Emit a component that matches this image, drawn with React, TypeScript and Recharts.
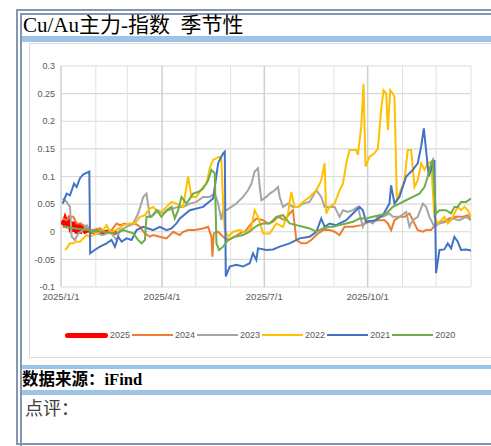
import { LineChart, Line, XAxis, YAxis, CartesianGrid, ReferenceLine } from "recharts";

// [day of year, value]
const s2025: [number, number][] = [
  [0, 0.018], [2.1, 0.015], [3.6, 0.024], [5, 0.015], [6.5, 0.021], [8, 0.009], [9.5, 0.018],
  [11, 0], [12.4, 0.018], [13.9, -0.003], [15.4, 0.015], [16.9, -0.003], [18.4, 0.009],
  [21.3, 0], [24.3, 0.003], [27.3, 0], [31.7, 0], [36.1, -0.003], [40.6, 0], [45, 0], [49.5, -0.003],
];

const s2024: [number, number][] = [
  [1.5, 0.024], [5, 0.021], [8, 0.027], [11, 0.027], [13.9, 0.015], [16.9, 0.015], [19.9, 0.012],
  [22.8, 0.006], [25.8, 0.003], [28.7, 0.003], [34.7, 0.006], [40.6, -0.003], [45, 0.003],
  [49.5, 0.015], [52.4, 0.012], [56.9, 0.015], [61.3, 0.012], [65.8, 0.015], [70.2, 0.009],
  [74.7, -0.003], [79.1, -0.009], [82.1, -0.006], [88, -0.009], [93.9, -0.012], [99.9, 0],
  [105.8, -0.006], [108.7, 0], [113.2, 0.003], [119.1, 0.003], [126.5, 0.006], [131, 0.009],
  [133.9, -0.009], [134.8, -0.045], [136, -0.003], [139.9, 0], [144.3, -0.009], [148.7, -0.015],
  [154.7, -0.009], [159.1, -0.003], [163.6, 0], [169.5, 0.015], [173.9, 0.024], [179.9, 0.021],
  [184.3, 0.015], [188.7, 0.018], [193.2, 0.027], [199.1, 0.021], [203.6, 0.033], [206.5, 0.039],
  [209.5, -0.015], [213.9, -0.021], [218.4, -0.021], [222.8, -0.015], [227.3, -0.006],
  [233.2, 0.003], [239.1, 0.003], [243.6, 0], [248, -0.006], [252.4, 0.009], [259.9, 0.009],
  [267.3, 0.012], [274.7, 0.018], [282.1, 0.021], [288, 0.021], [291, 0.015], [293.9, 0.003],
  [296.9, 0.021], [301.3, 0.027], [305.8, 0.027], [310.2, 0.033], [313.2, 0.021], [317.6, 0.003],
  [322.1, 0], [325, 0.003], [329.5, 0.003], [333.9, 0.015], [339.9, 0.018], [345.8, 0.024],
  [351.7, 0.027], [357.6, 0.027], [362.1, 0.03], [365, 0.021],
];

const s2023: [number, number][] = [
  [1.5, 0.06], [5, 0.054], [8, 0.045], [9.5, -0.009], [12.4, -0.015], [15.4, -0.003], [19.9, 0.003],
  [22.8, 0.012], [27.3, 0], [31.7, -0.003], [37.6, -0.006], [43.6, 0], [49.5, -0.015], [52.4, 0.003],
  [58.4, 0.009], [64.3, 0.015], [68.7, 0.033], [73.2, 0.063], [76.1, 0.069], [79.1, 0.027],
  [82.1, 0.03], [86.5, 0.039], [91, 0.033], [95.4, 0.039], [99.9, 0.042], [104.3, 0.045],
  [108.7, 0.045], [114.7, 0.051], [120.6, 0.054], [126.5, 0.063], [132.4, 0.063], [136.9, 0.069],
  [139.9, 0.051], [142.8, 0.021], [144.3, 0.039], [147.3, 0.039], [151.7, 0.045], [156.1, 0.051],
  [162.1, 0.063], [166.5, 0.075], [169.5, 0.087], [172.4, 0.109], [175.4, 0.115], [176.9, 0.081],
  [178.4, 0.057], [182.8, 0.063], [185.8, 0.069], [190.2, 0.075], [193.2, 0.081], [194.7, 0.063],
  [197.6, 0.045], [202.1, 0.051], [206.5, 0.045], [211, 0.045], [215.4, 0.051], [221.3, 0.054],
  [227.3, 0.075], [231.7, 0.063], [234.7, 0.045], [239.1, 0.045], [243.6, 0.045], [248, 0.027],
  [251, 0.039], [255.4, 0.036], [259.9, 0.039], [264.3, 0.045], [268.7, 0.009], [271.7, 0.021],
  [277.6, 0.015], [282.1, 0.027], [286.5, 0.027], [292.4, 0.033], [295.4, 0.027], [301.3, 0.027],
  [307.3, 0.036], [310.2, 0.009], [313.2, 0.021], [317.6, 0.027], [322.1, 0.051], [325, 0.045],
  [328, 0.027], [332.4, 0.009], [336.9, 0.015], [342.8, 0.018], [348.7, 0.024], [354.7, 0.021],
  [360.6, 0.027], [365, 0.021],
];

const s2022: [number, number][] = [
  [3.6, -0.033], [5, -0.03], [8, -0.021], [11, -0.021], [13.9, -0.018], [16.9, -0.018],
  [19.9, -0.012], [22.8, -0.006], [25.8, -0.009], [31.7, -0.003], [37.6, 0.003], [40.6, 0.012],
  [43.6, 0], [49.5, 0.003], [55.4, 0.012], [61.3, 0.015], [65.8, 0.015], [70.2, 0.027],
  [74.7, 0.03], [79.1, 0.042], [82.1, 0.045], [88, 0.033], [93.9, 0.045], [98.4, 0.054],
  [102.8, 0.051], [108.7, 0.045], [113.2, 0.1], [116.1, 0.063], [120.6, 0.063], [126.5, 0.081],
  [129.5, 0.087], [132.4, 0.115], [135.4, 0.13], [141.3, 0.136], [142.8, 0.13], [144.3, 0.051],
  [145.8, 0.003], [148.7, -0.009], [153.2, 0], [159.1, 0.003], [165, -0.003], [169.5, 0.009],
  [172.4, 0.039], [175.4, 0.027], [179.9, -0.003], [185.8, -0.003], [191.7, 0.015], [197.6, 0.009],
  [202.1, 0.033], [205, 0.072], [208, 0.045], [211, 0.045], [215.4, 0.054], [221.3, 0.063],
  [227.3, 0.075], [231.7, 0.093], [234.7, 0.124], [236.1, 0.033], [239.1, 0.045], [243.6, 0.051],
  [248, 0.075], [251, 0.087], [254, 0.124], [256.9, 0.148], [262.8, 0.148], [264.3, 0.139],
  [267.3, 0.19], [269.3, 0.268], [271.1, 0.118], [274.7, 0.136], [279.1, 0.142], [282.1, 0.151],
  [285, 0.22], [287.1, 0.256], [289.5, 0.25], [291, 0.184], [293.1, 0.256], [295.4, 0.25],
  [296.9, 0.244], [299, 0.057], [301.3, 0.069], [305.8, 0.093], [308.7, 0.148], [311.7, 0.148],
  [314.7, 0.081], [317.6, 0.093], [320.6, 0.124], [323.6, 0.112], [326.5, 0.124], [329.5, 0.127],
  [332.4, 0.027], [335.4, 0.015], [338.4, 0.021], [341.3, 0.027], [344.3, 0.015], [347.3, 0.021],
  [350.2, 0.033], [353.2, 0.045], [356.1, 0.039], [359.1, 0.045], [362.1, 0.039], [365, 0.027],
];

const s2021: [number, number][] = [
  [1.5, 0.051], [5, 0.069], [8, 0.066], [11.6, 0.087], [13.9, 0.081], [16.9, 0.097], [19.9, 0.104],
  [25.2, 0.109], [26, -0.039], [30, -0.033], [34.7, -0.027], [40.6, -0.021], [45, -0.015],
  [48, -0.027], [51, -0.009], [54, -0.018], [58.4, -0.012], [62.8, -0.015], [67.3, 0.003],
  [73.2, 0.009], [77.6, 0.006], [82, 0.003], [88, 0.009], [94, 0.003], [98.4, 0.006],
  [102.8, 0.015], [105.8, 0.024], [114.7, 0.039], [126.5, 0.045], [135.4, 0.06], [139.9, 0.124],
  [144.3, 0.142], [145.8, 0.145], [146.7, -0.081], [150.2, -0.063], [156.1, -0.06], [162, -0.063],
  [168, -0.057], [170.9, -0.039], [173.9, -0.051], [175.4, -0.03], [182.8, -0.033], [188.7, -0.032],
  [194.7, -0.027], [203.6, -0.021], [212.4, -0.012], [221.3, -0.009], [227.3, 0], [231.7, 0.024],
  [234.7, 0.009], [239.1, 0.015], [245, 0.012], [253.9, 0.021], [259.9, 0.033], [265.8, 0.045],
  [268.7, 0.039], [271.7, 0.018], [280.6, 0.021], [286.5, 0.03], [292.4, 0.051], [293.9, 0.084],
  [296.9, 0.051], [301.3, 0.063], [307.3, 0.1], [313.2, 0.112], [317.6, 0.124], [320.6, 0.154],
  [323, 0.187], [325, 0.148], [327.4, 0.1], [332.4, 0.13], [333.9, -0.075], [336.9, -0.033],
  [341.3, -0.032], [344.3, -0.021], [347.3, -0.03], [350.2, -0.009], [353.2, -0.018],
  [356.1, -0.033], [360.6, -0.032], [365, -0.034],
];

const s2020: [number, number][] = [
  [1.5, 0.009], [22.8, 0.003], [37.6, 0], [49.5, -0.003], [55.4, 0.003], [59.9, 0], [64.3, -0.003],
  [68.7, -0.015], [71.7, -0.021], [74.7, -0.015], [76.1, 0.027], [80.6, 0.027], [85, 0.039],
  [89.5, 0.027], [93.9, 0.039], [98.4, 0.045], [101.3, 0.024], [104.3, 0.039], [107.3, 0.063],
  [111.7, 0.051], [117.6, 0.069], [122.1, 0.072], [126.5, 0.078], [131, 0.093], [133.9, 0.112],
  [136.9, 0.106], [138.4, -0.021], [140.7, -0.033], [144.3, -0.027], [148.7, -0.015],
  [154.7, -0.009], [162.1, -0.006], [168, 0], [170.9, 0.006], [175.4, 0.012], [179.9, 0.015],
  [185.8, 0.015], [191.7, 0.027], [197.6, 0.03], [203.6, 0.015], [209.5, 0.012], [215.4, 0.009],
  [221.3, 0.006], [227.3, 0], [233.2, 0.006], [239.1, 0.009], [242.1, 0.009], [248, 0.012],
  [253.9, 0.015], [259.9, 0.018], [265.8, 0.024], [271.7, 0.024], [277.6, 0.027], [283.6, 0.03],
  [289.5, 0.033], [295.4, 0.045], [301.3, 0.051], [307.3, 0.057], [313.2, 0.063], [319.1, 0.069],
  [323.6, 0.081], [326.5, 0.1], [329.5, 0.124], [331, 0.13], [332.4, 0.075], [333.9, 0.033],
  [336.9, 0.039], [342.8, 0.039], [347.3, 0.033], [350.2, 0.045], [353.2, 0.045], [356.1, 0.054],
  [360.6, 0.054], [365, 0.06],
];

const seriesNames = ["2025", "2024", "2023", "2022", "2021", "2020"];
const seriesData = [s2025, s2024, s2023, s2022, s2021, s2020];
const seriesColors = ["#FF0000", "#ED7D31", "#A5A5A5", "#FFC000", "#4472C4", "#70AD47"];

const xTicks = [0, 90, 181, 273];
const xTickLabels = ["2025/1/1", "2025/4/1", "2025/7/1", "2025/10/1"];
const monthStarts = [31, 59, 120, 151, 212, 243, 304, 334, 365];
const yTicks = [-0.1, -0.05, 0, 0.05, 0.1, 0.15, 0.2, 0.25, 0.3];

const toRows = (pts: [number, number][]) => pts.map(([d, v]) => ({ d, v }));

const frame = "#8497b0";
const bar = "#9dc3e6";
const textFont = '"Liberation Serif", "Noto Sans CJK SC", serif';

export default function App() {
  return (
    <div style={{ position: "relative", width: 491, height: 446, overflow: "hidden", background: "#fff" }}>
      <style>{"body{margin:0}"}</style>
      <div style={{ position: "absolute", left: 16, top: 9, width: 600, height: 432, border: `2px solid ${frame}` }} />
      <div style={{ position: "absolute", left: 20, top: 13, width: 600, height: 440, borderLeft: `2px solid ${frame}`, borderTop: `2px solid ${frame}` }} />

      <div style={{ position: "absolute", left: 23, top: 15, fontFamily: textFont, fontSize: 21, lineHeight: "21px", color: "#000", whiteSpace: "pre" }}>
        {"Cu/Au主力-指数  季节性"}
      </div>
      <div style={{ position: "absolute", left: 22, top: 36, width: 500, height: 6, background: bar }} />

      <div style={{ position: "absolute", left: 29, top: 43, width: 500, height: 313, border: "1px solid #d9d9d9" }} />

      <div style={{ position: "absolute", left: 28, top: 43 }}>
        <LineChart width={463} height={314} margin={{ top: 23, right: 20, left: 3, bottom: 7 }}>
          <CartesianGrid vertical={false} stroke="#d9d9d9" strokeWidth={1.2} />
          <XAxis
            type="number"
            dataKey="d"
            domain={[0, 365]}
            ticks={xTicks}
            tickFormatter={(v: number) => xTickLabels[xTicks.indexOf(v)] ?? ""}
            tick={{ fill: "#595959", fontSize: 9.5, fontFamily: "Liberation Sans" }}
            axisLine={false}
            tickLine={false}
            tickSize={4}
            height={63}
            allowDataOverflow
          />
          <YAxis
            type="number"
            domain={[-0.1, 0.3]}
            ticks={yTicks}
            tickFormatter={(v: number) => String(Number(v.toFixed(2)))}
            tick={{ fill: "#595959", fontSize: 9, fontFamily: "Liberation Sans" }}
            axisLine={false}
            tickLine={false}
            tickSize={4}
            width={30}
            allowDataOverflow
          />
          {monthStarts.map((m) => (
            <ReferenceLine key={"m" + m} x={m} stroke="#e0e0e0" strokeWidth={1} />
          ))}
          {xTicks.map((m) => (
            <ReferenceLine key={"q" + m} x={m} stroke="#d0d0d0" strokeWidth={1.5} />
          ))}
          {seriesNames.map((name, i) => (
            <Line
              key={name}
              data={toRows(seriesData[i])}
              dataKey="v"
              name={name}
              type="linear"
              stroke={seriesColors[i]}
              strokeWidth={i === 0 ? 4 : 2}
              dot={false}
              isAnimationActive={false}
            />
          ))}
        </LineChart>
      </div>

      <div style={{ position: "absolute", left: 65, top: 329, display: "flex", alignItems: "center", fontFamily: "Liberation Sans", fontSize: 9, color: "#595959" }}>
        {seriesNames.map((name, i) => (
          <div key={name} style={{ display: "flex", alignItems: "center", marginRight: 2 }}>
            <div style={{ width: i === 0 ? 43 : 41, height: i === 0 ? 5 : 2, background: seriesColors[i], borderRadius: i === 0 ? 3 : 0, marginRight: 2 }} />
            <span style={{ lineHeight: "12px" }}>{name}</span>
          </div>
        ))}
      </div>

      <div style={{ position: "absolute", left: 22, top: 365, width: 500, height: 4, background: bar }} />
      <div style={{ position: "absolute", left: 22, top: 371, fontFamily: textFont, fontSize: 16.5, lineHeight: "18px", fontWeight: "bold", color: "#000", whiteSpace: "nowrap" }}>
        数据来源：iFind
      </div>
      <div style={{ position: "absolute", left: 22, top: 390, width: 500, height: 5, background: bar }} />
      <div style={{ position: "absolute", left: 25, top: 399, fontFamily: textFont, fontSize: 18, lineHeight: "20px", color: "#404040", whiteSpace: "nowrap" }}>
        点评：
      </div>
    </div>
  );
}
